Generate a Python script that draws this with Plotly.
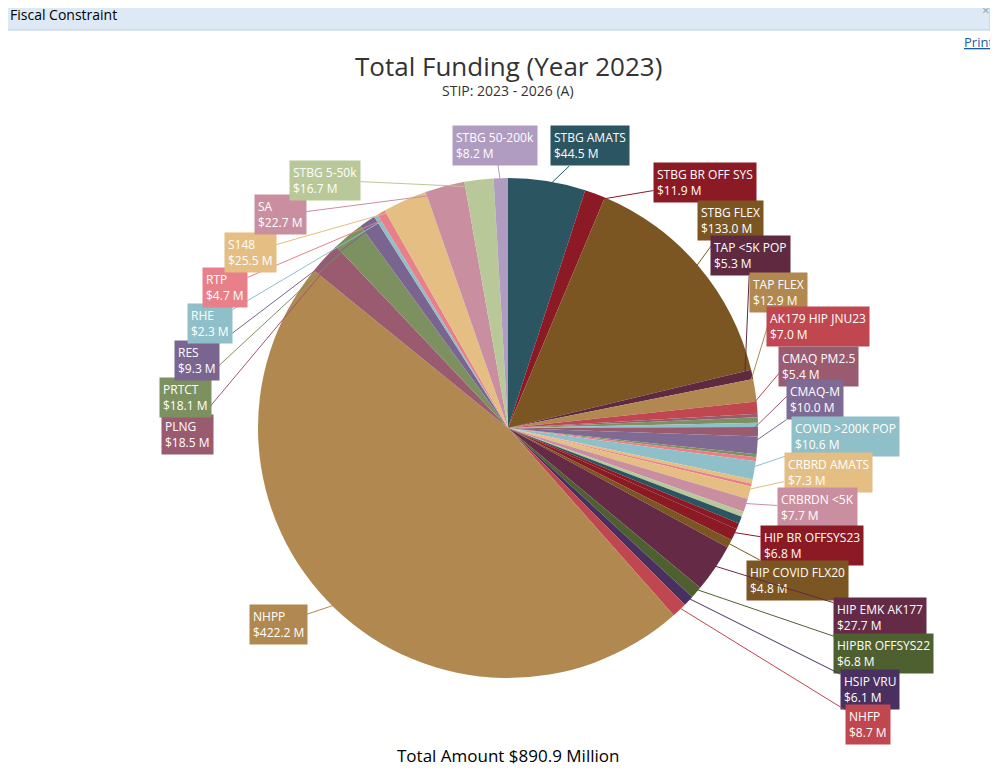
import numpy as np
import plotly.graph_objects as go

# slices in clockwise order from 12 o'clock, $ million
labels = ['STBG AMATS', 'STBG BR OFF SYS', 'STBG FLEX', 'TAP <5K POP', 'TAP FLEX',
          'AK179 HIP JNU23', 'OTHER A', 'OTHER B', 'OTHER C', 'CMAQ PM2.5', 'CMAQ-M',
          'OTHER D', 'OTHER E', 'COVID >200K POP', 'OTHER F', 'OTHER G', 'CRBRD AMATS',
          'CRBRDN <5K', 'OTHER H', 'OTHER I', 'OTHER J', 'HIP BR OFFSYS23', 'HIP COVID FLX20',
          'HIP EMK AK177', 'HIPBR OFFSYS22', 'HSIP VRU', 'NHFP', 'NHPP', 'PLNG', 'PRTCT',
          'RES', 'RHE', 'RTP', 'S148', 'SA', 'STBG 5-50k', 'STBG 50-200k']
values = [44.5, 11.9, 133.0, 5.3, 12.9,
          7.0, 2.0, 3.1, 2.5, 5.4, 10.0,
          1.8, 2.2, 10.6, 2.4, 1.6, 7.3,
          7.7, 3.0, 4.1, 3.5, 6.8, 4.8,
          27.7, 6.8, 6.1, 8.7, 422.2, 18.5, 18.1,
          9.3, 2.3, 4.7, 25.5, 22.7, 16.7, 8.2]
colors = ['#2b5561', '#8b1a25', '#7b5522', '#5f2a40', '#b08850',
          '#c0474f', '#9a5a70', '#7d9060', '#8fbfc8', '#9a5a70', '#7f6a93',
          '#7d9060', '#e8808a', '#8fbfc8', '#e4be82', '#e8808a', '#e4be82',
          '#c98fa0', '#b8c898', '#2b5561', '#8b1a25', '#8b1a25', '#7b5522',
          '#652a45', '#4f6030', '#4a3060', '#c0474f', '#b08850', '#9a5a70', '#7d9060',
          '#7a6590', '#8fbfc8', '#e8808a', '#e4be82', '#c98fa0', '#b8c898', '#b09cc0']

# label box centres (pixels in the reference)
label_pos = {
    'STBG AMATS': (590, 146), 'STBG BR OFF SYS': (705, 182), 'STBG FLEX': (730, 220),
    'TAP <5K POP': (750, 256), 'TAP FLEX': (778, 292), 'AK179 HIP JNU23': (818, 327),
    'CMAQ PM2.5': (818, 366), 'CMAQ-M': (815, 400), 'COVID >200K POP': (845, 436),
    'CRBRD AMATS': (828, 472), 'CRBRDN <5K': (817, 508), 'HIP BR OFFSYS23': (812, 545),
    'HIP COVID FLX20': (797, 580), 'HIP EMK AK177': (880, 617), 'HIPBR OFFSYS22': (883, 653),
    'HSIP VRU': (870, 689), 'NHFP': (868, 724), 'NHPP': (278, 624), 'PLNG': (187, 434),
    'PRTCT': (185, 397), 'RES': (197, 360), 'RHE': (210, 323), 'RTP': (225, 287),
    'S148': (250, 252), 'SA': (280, 215), 'STBG 5-50k': (325, 180), 'STBG 50-200k': (495, 145),
}

OFF = 8  # page body margin
W, H = 998 - 2 * OFF, 773 - 2 * OFF
cx, cy, R = 508 - OFF, 428 - OFF, 250


def px_x(x):
    return (x - OFF) / W


def px_y(y):
    return 1 - (y - OFF) / H


fig = go.Figure(go.Pie(
    labels=labels, values=values, sort=False, direction='clockwise', rotation=0,
    marker=dict(colors=colors, line=dict(width=0)), textinfo='none',
    hovertemplate='%{label}: $%{value:.1f} M<extra></extra>',
    domain=dict(x=[(cx - R) / W, (cx + R) / W], y=[1 - (cy + R) / H, 1 - (cy - R) / H]),
    showlegend=False,
))

total = sum(values)
cum = np.cumsum([0] + values[:-1])
annotations = []
for lab, v, c0, col in zip(labels, values, cum, colors):
    if lab not in label_pos:
        continue
    ang = np.radians(90 - 360 * (c0 + v / 2) / total)
    px = cx + R * 0.97 * np.cos(ang)
    py = cy - R * 0.97 * np.sin(ang)
    lx, ly = label_pos[lab]
    lx, ly = lx - OFF, ly - OFF
    annotations.append(dict(
        x=px / W, y=1 - py / H, xref='paper', yref='paper',
        ax=lx - px, ay=ly - py, showarrow=True, arrowhead=0, arrowwidth=1,
        arrowcolor=col, standoff=0,
        text=f'{lab}<br>${v:.1f} M', align='left', bgcolor=col, borderpad=3,
        font=dict(color='white', size=12, family='Open Sans'),
    ))

texts = [
    (8, 15, 'left', 'Fiscal Constraint', dict(size=14, color='black')),
    (985, 10, 'center', '×', dict(size=13, color='#8aa0b0')),
    (995, 42, 'right', '<u>Print</u>', dict(size=13, color='#1a5aa0')),
    (508, 66, 'center', 'Total Funding (Year 2023)', dict(size=26, color='#333')),
    (508, 90, 'center', 'STIP: 2023 - 2026 (A)', dict(size=14, color='#333')),
    (508, 755, 'center', f'Total Amount ${total:.1f} Million', dict(size=17, color='black')),
]
for x, y, xa, t, f in texts:
    annotations.append(dict(x=px_x(x), y=px_y(y), xref='paper', yref='paper',
                            xanchor=xa, yanchor='middle', showarrow=False, text=t,
                            font=dict(family='Open Sans', **f)))

fig.update_layout(
    width=W, height=H, margin=dict(l=0, r=0, t=0, b=0),
    paper_bgcolor='white', annotations=annotations,
    shapes=[dict(type='rect', xref='paper', yref='paper', x0=px_x(0), x1=1,
                 y0=px_y(30), y1=1.02,
                 fillcolor='#dde9f5', line=dict(color='#b8cce0', width=1), layer='below')],
)

fig.write_html('out.html')
